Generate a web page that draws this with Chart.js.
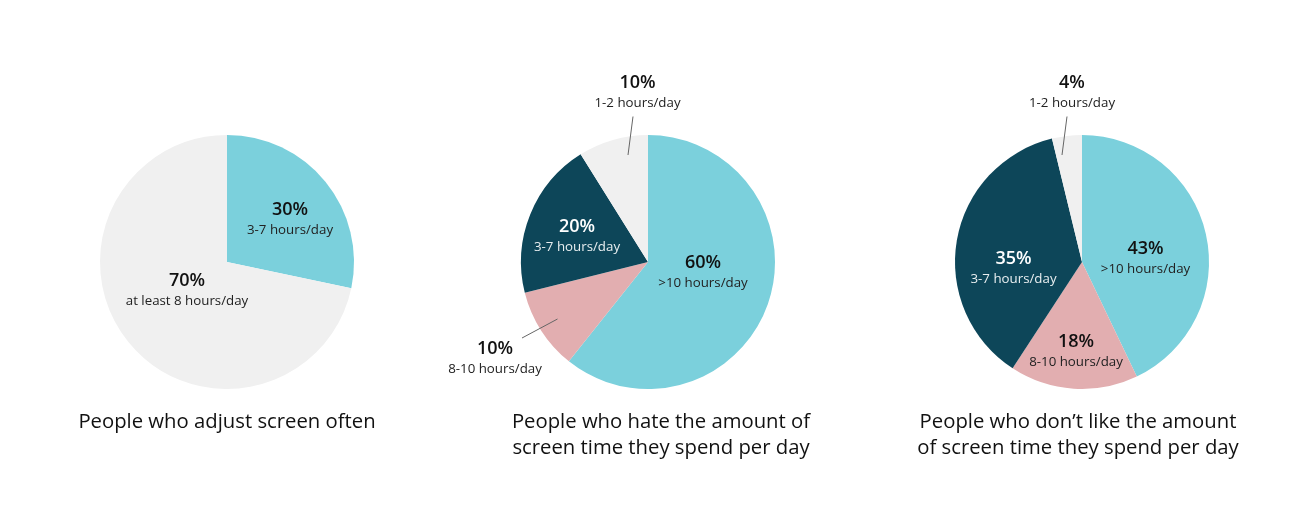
<!DOCTYPE html>
<html>
<head>
<meta charset="utf-8">
<script src="https://cdn.jsdelivr.net/npm/chart.js@4.4.0/dist/chart.umd.min.js"></script>
<style>
  html, body { margin: 0; padding: 0; background: #ffffff; }
  #wrap { position: relative; width: 1315px; height: 525px; overflow: hidden; font-family: "Open Sans", "Lato", sans-serif; }
  .cv { position: absolute; top: 0; }
  .title { position: absolute; font-size: 20.3px; color: #111; text-align: center; line-height: 26px; white-space: nowrap; transform: translateX(-50%); font-weight: 500; }
</style>
</head>
<body>
<div id="wrap">
  <div class="cv" style="left:17px;width:420px;height:525px"><canvas id="c1"></canvas></div>
  <div class="cv" style="left:438px;width:420px;height:525px"><canvas id="c2"></canvas></div>
  <div class="cv" style="left:872px;width:420px;height:525px"><canvas id="c3"></canvas></div>
  <div class="title" id="t1" style="left:227px;top:407px"></div>
  <div class="title" id="t2" style="left:661px;top:407px"></div>
  <div class="title" id="t3" style="left:1078px;top:407px"></div>
</div>
<script>
// ---- data ----
// slice shares as drawn in the picture, and the percentages printed on them
const chart1Labels = ["3-7 hours/day", "at least 8 hours/day"];
const chart1Values = [28.3, 71.7];
const chart1Printed = [30, 70];
const chart2Labels = [">10 hours/day", "8-10 hours/day", "3-7 hours/day", "1-2 hours/day"];
const chart2Values = [60.7, 10.4, 20.0, 8.9];
const chart2Printed = [60, 10, 20, 10];
const chart3Labels = [">10 hours/day", "8-10 hours/day", "3-7 hours/day", "1-2 hours/day"];
const chart3Values = [42.9, 16.3, 37.0, 3.8];
const chart3Printed = [43, 18, 35, 4];
const titles = [
  ["People who adjust screen often"],
  ["People who hate the amount of", "screen time they spend per day"],
  ["People who don\u2019t like the amount", "of screen time they spend per day"]
];

// ---- styles ----
const TEAL = "#7bd0dc", PINK = "#e2aeb0", DARK = "#0d4659", LIGHT = "#f0f0f0";
const chart1Colors = [TEAL, LIGHT];
const chart2Colors = [TEAL, PINK, DARK, LIGHT];
const chart3Colors = [TEAL, PINK, DARK, LIGHT];
// label placement relative to pie centre: [dx, dy, dark-background?, leader line [x1,y1,x2,y2] or null]
const chart1Place = [[63, -52, false, null], [-40, 19, false, null]];
const chart2Place = [[55, 1, false, null], [-153, 87, false, [-126, 76, -90.5, 57]], [-71, -35, true, null], [-10.5, -179, false, [-15, -145.5, -20, -107]]];
const chart3Place = [[63.5, -13, false, null], [-6, 80, false, null], [-68.5, -3, true, null], [-10, -179, false, [-15, -145.5, -20, -107]]];

const labelPlugin = {
  id: "sliceLabels",
  afterDatasetsDraw(chart) {
    const meta = chart.getDatasetMeta(0);
    const ctx = chart.ctx;
    const opts = chart.options.plugins.sliceLabels;
    const place = opts.place;
    const labels = chart.data.labels;
    const arc0 = meta.data[0];
    const cx = arc0.x, cy = arc0.y;
    ctx.save();
    place.forEach((p, i) => {
      const x = cx + p[0], y = cy + p[1];
      if (p[3]) {
        ctx.strokeStyle = "#666";
        ctx.lineWidth = 1;
        ctx.beginPath();
        ctx.moveTo(cx + p[3][0], cy + p[3][1]);
        ctx.lineTo(cx + p[3][2], cy + p[3][3]);
        ctx.stroke();
      }
      ctx.textAlign = "center";
      ctx.textBaseline = "middle";
      ctx.fillStyle = p[2] ? "#ffffff" : "#111111";
      ctx.font = "600 18px 'Open Sans', Lato, sans-serif";
      ctx.fillText(opts.printed[i] + "%", x, y);
      ctx.fillStyle = p[2] ? "#e8eef0" : "#222222";
      ctx.font = "13.3px 'Open Sans', Lato, sans-serif";
      ctx.fillText(labels[i], x, y + 20);
    });
    ctx.restore();
  }
};

function makePie(id, labels, values, colors, printed, place) {
  return new Chart(document.getElementById(id), {
    type: "pie",
    data: { labels: labels, datasets: [{ data: values, backgroundColor: colors, borderWidth: 0, hoverOffset: 0 }] },
    options: {
      responsive: true,
      maintainAspectRatio: false,
      animation: false,
      layout: { padding: { left: 83, right: 83, top: 135, bottom: 136 } },
      plugins: { legend: { display: false }, tooltip: { enabled: false }, sliceLabels: { place: place, printed: printed } }
    },
    plugins: [labelPlugin]
  });
}

makePie("c1", chart1Labels, chart1Values, chart1Colors, chart1Printed, chart1Place);
makePie("c2", chart2Labels, chart2Values, chart2Colors, chart2Printed, chart2Place);
makePie("c3", chart3Labels, chart3Values, chart3Colors, chart3Printed, chart3Place);

["t1", "t2", "t3"].forEach((id, i) => {
  document.getElementById(id).innerHTML = titles[i].join("<br>");
});
</script>
</body>
</html>
